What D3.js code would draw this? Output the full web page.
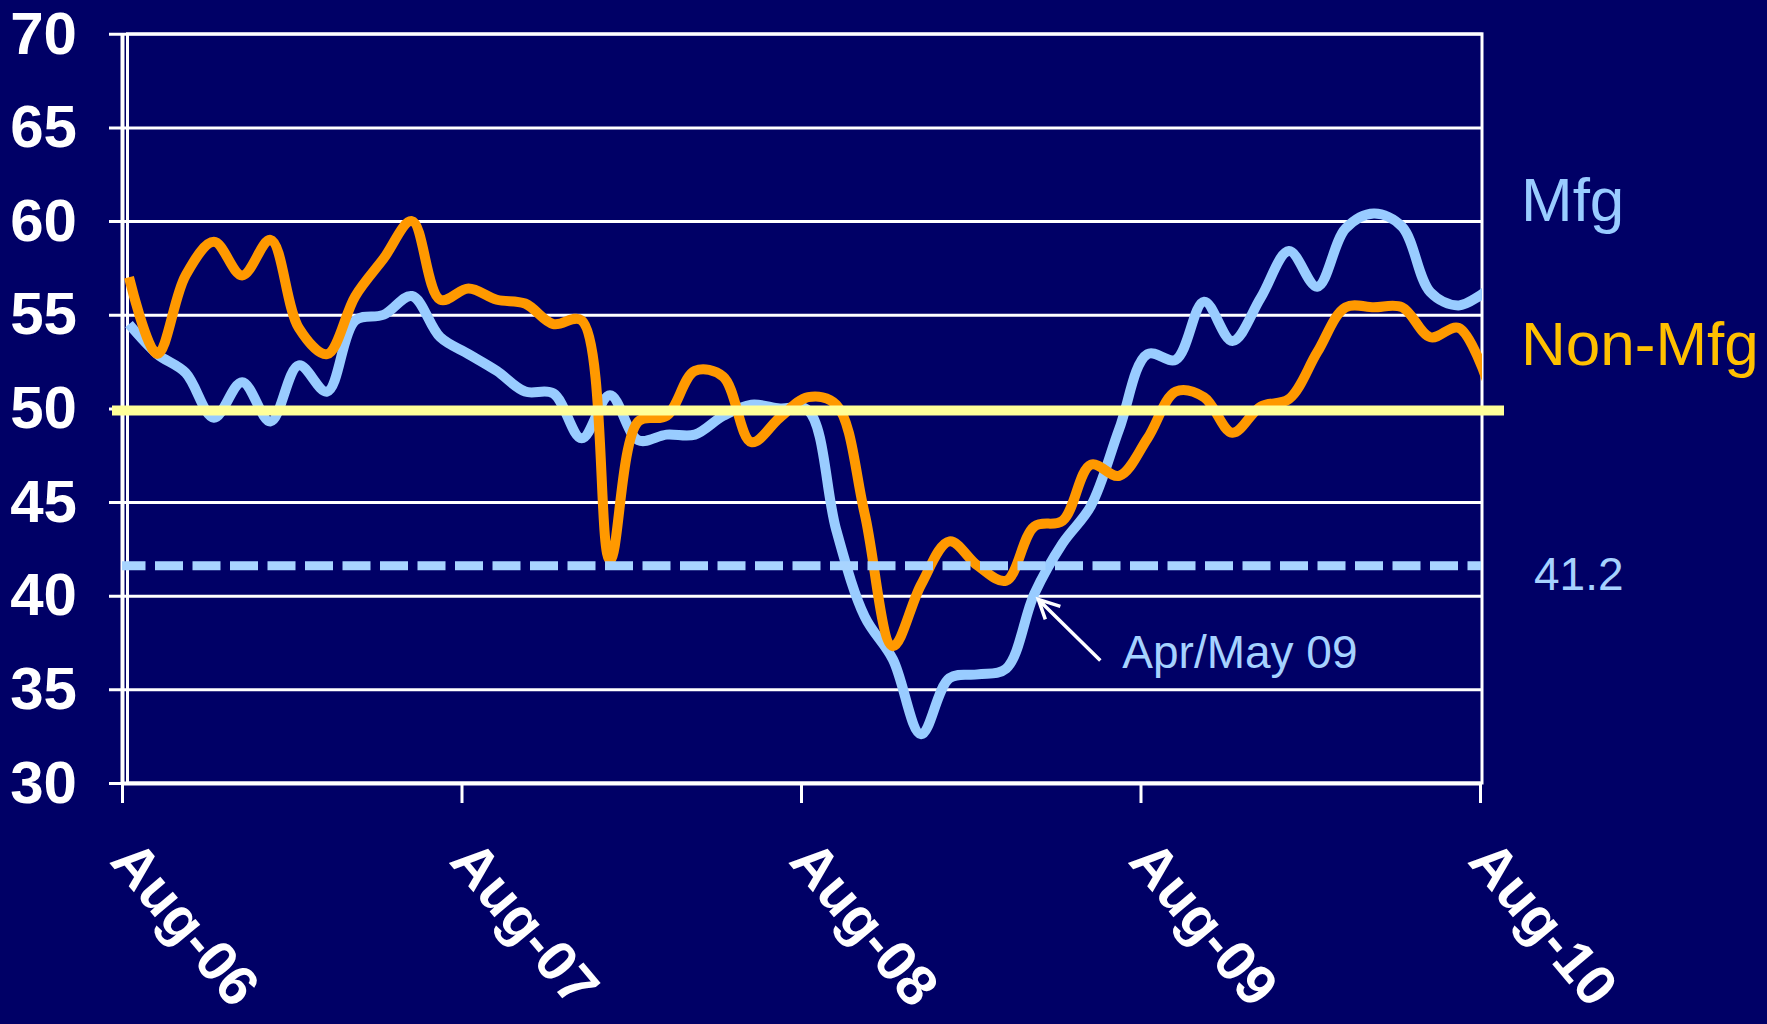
<!DOCTYPE html>
<html>
<head>
<meta charset="utf-8">
<script src="https://cdn.jsdelivr.net/npm/d3@7"></script>
<style>
  html, body { margin: 0; padding: 0; background: #000066; }
  svg { display: block; }
</style>
</head>
<body>
<script>
// monthly ISM readings, Aug-06 .. Aug-10
const months = d3.timeMonth.range(new Date(2006, 7, 1), new Date(2010, 8, 1)).map(d3.timeFormat("%b-%y"));

const mfg = [
  54.5, 52.9, 51.9, 49.5, 51.4,
  49.3, 52.3, 50.9, 54.7, 55.0, 56.0, 53.8, 52.9, 52.0, 50.9, 50.8, 48.4,
  50.7, 48.3, 48.6, 48.6, 49.6, 50.2, 50.0, 49.9, 43.5, 38.9, 36.6, 32.6,
  35.6, 35.8, 36.1, 40.1, 42.8, 44.8, 48.9, 52.9, 52.6, 55.7, 53.6, 55.9,
  58.4, 56.5, 59.6, 60.4, 59.7, 56.2, 55.5, 56.3
];

const nonMfg = [
  57.0, 52.9, 57.1, 58.9, 57.1,
  59.0, 54.3, 52.9, 56.0, 58.0, 60.0, 55.8, 56.4, 55.8, 55.6, 54.5, 54.7,
  41.9, 49.3, 49.6, 52.0, 51.7, 48.2, 49.5, 50.6, 50.2, 44.4, 37.3, 40.6,
  42.9, 41.6, 40.8, 43.7, 44.0, 47.0, 46.4, 48.4, 50.9, 50.6, 48.7, 50.1,
  50.5, 53.0, 55.4, 55.4, 55.4, 53.8, 54.3, 51.5
];

const yTicks = [30, 35, 40, 45, 50, 55, 60, 65, 70];
const xTickLabels = ["Aug-06", "Aug-07", "Aug-08", "Aug-09", "Aug-10"];
const seriesNames = ["Mfg", "Non-Mfg"];
const threshold = 50;
const lowLine = 41.6;        // where the dashed line sits in the picture
const lowLabel = "41.2";
const noteLabel = "Apr/May 09";
const noteMonth = "Apr-09";

const W = 1767, H = 1024;
const plotLeft = 122, plotRight = 1480, plotTop = 33.8, plotBottom = 783;
const dataShift = 7; // points sit a little right of the month ticks

const svg = d3.select("body").append("svg")
  .attr("width", W)
  .attr("height", H);

svg.append("rect")
  .attr("width", W)
  .attr("height", H)
  .attr("fill", "#000066");

const x = d3.scalePoint().domain(months).range([plotLeft, plotRight]);
const y = d3.scaleLinear().domain([30, 70]).range([plotBottom, plotTop]);

svg.append("clipPath")
  .attr("id", "plot-clip")
  .append("rect")
  .attr("x", plotLeft)
  .attr("y", 0)
  .attr("width", plotRight + 2 - plotLeft)
  .attr("height", H);

// y axis + gridlines
const yAxis = svg.append("g")
  .attr("transform", `translate(${plotLeft},0)`)
  .call(d3.axisLeft(y).tickValues(yTicks).tickSizeInner(-(plotRight + 2 - plotLeft)).tickSizeOuter(0).tickPadding(45));

yAxis.select(".domain").attr("stroke", "#fff").attr("stroke-width", 4);
yAxis.selectAll(".tick line")
  .attr("x1", -13)
  .attr("stroke", "#fff")
  .attr("stroke-width", 3);
yAxis.selectAll(".tick text")
  .attr("fill", "#fff")
  .style("font-family", "'Liberation Sans', Arial, sans-serif")
  .style("font-weight", "bold")
  .style("font-size", "60px");

// plot area border
svg.append("rect")
  .attr("x", plotLeft + 5.5)
  .attr("y", y(70))
  .attr("width", plotRight + 2 - plotLeft - 5.5)
  .attr("height", y(30) - y(70))
  .attr("fill", "none")
  .attr("stroke", "#fff")
  .attr("stroke-width", 3);

// x axis
const xAxis = svg.append("g")
  .attr("transform", `translate(0,${plotBottom})`)
  .call(d3.axisBottom(x).tickValues(xTickLabels).tickSizeInner(20).tickSizeOuter(0));

xAxis.select(".domain").attr("stroke", "#fff").attr("stroke-width", 4);
xAxis.selectAll(".tick line").attr("stroke", "#fff").attr("stroke-width", 3);
xAxis.selectAll(".tick text")
  .attr("x", 0)
  .attr("y", 0)
  .attr("dy", null)
  .attr("text-anchor", "start")
  .attr("transform", "translate(-14,79) rotate(50)")
  .attr("fill", "#fff")
  .style("font-family", "'Liberation Sans', Arial, sans-serif")
  .style("font-weight", "bold")
  .style("font-size", "57px");

// series lines
const line = d3.line()
  .x((d, i) => x(months[i]) + dataShift)
  .y(d => y(d))
  .curve(d3.curveCatmullRom.alpha(0.5));

const lines = svg.append("g").attr("clip-path", "url(#plot-clip)");

lines.append("path")
  .datum(mfg)
  .attr("d", line)
  .attr("fill", "none")
  .attr("stroke", "#99ccff")
  .attr("stroke-width", 10)
  .attr("stroke-linejoin", "round");

lines.append("path")
  .datum(nonMfg)
  .attr("d", line)
  .attr("fill", "none")
  .attr("stroke", "#ff9900")
  .attr("stroke-width", 10)
  .attr("stroke-linejoin", "round");

// dashed low reference
svg.append("line")
  .attr("x1", plotLeft)
  .attr("x2", plotRight + 1)
  .attr("y1", y(lowLine))
  .attr("y2", y(lowLine))
  .attr("stroke", "#a8d4ff")
  .attr("stroke-width", 9)
  .attr("stroke-dasharray", "28 9.5")
  .attr("stroke-dashoffset", 4.5);

// 50 line
svg.append("line")
  .attr("x1", plotLeft - 10)
  .attr("x2", plotRight + 24)
  .attr("y1", y(threshold) + 2)
  .attr("y2", y(threshold) + 2)
  .attr("stroke", "#ffff99")
  .attr("stroke-width", 10);

// labels on the right
const font = "'Liberation Sans', Arial, sans-serif";

svg.append("g")
  .selectAll("text")
  .data(seriesNames)
  .join("text")
  .attr("x", plotRight + 41)
  .attr("y", (d, i) => [221, 365][i])
  .attr("fill", (d, i) => ["#99ccff", "#ffc000"][i])
  .style("font-family", font)
  .style("font-size", "62px")
  .text(d => d);

svg.append("text")
  .attr("x", plotRight + 54)
  .attr("y", y(lowLine) + 24)
  .attr("fill", "#a6d2ff")
  .style("font-family", font)
  .style("font-size", "46px")
  .text(lowLabel);

// Apr/May 09 note with arrow
const tipX = x(noteMonth) + dataShift + 4, tipY = y(39.8);
svg.append("text")
  .attr("x", tipX + 84)
  .attr("y", tipY + 69)
  .attr("fill", "#a6d2ff")
  .style("font-family", font)
  .style("font-size", "46px")
  .text(noteLabel);

svg.append("path")
  .attr("d", `M${tipX + 62},${tipY + 61}L${tipX},${tipY}M${tipX + 22},${tipY + 7}L${tipX},${tipY}L${tipX + 7},${tipY + 20}`)
  .attr("fill", "none")
  .attr("stroke", "#fff")
  .attr("stroke-width", 3.5);
</script>
</body>
</html>
